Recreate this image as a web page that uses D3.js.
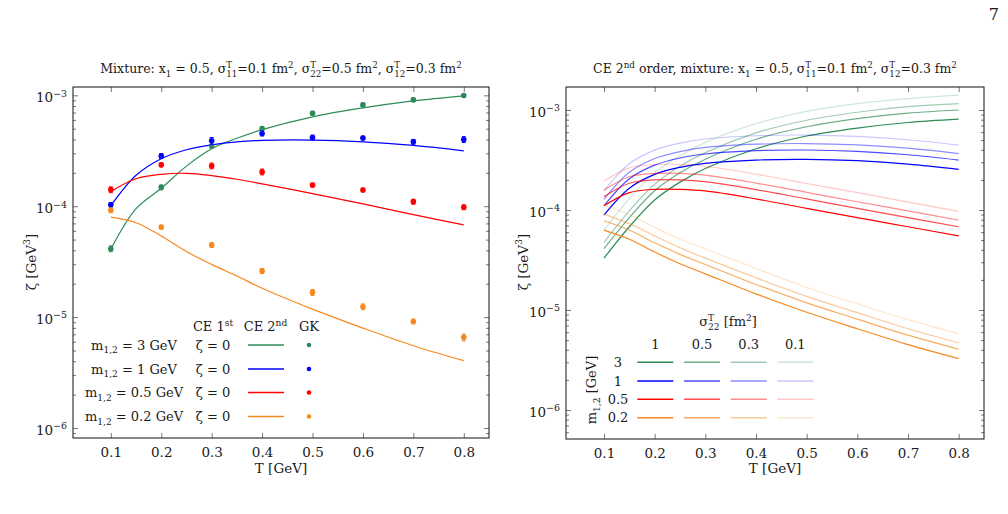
<!DOCTYPE html>
<html>
<head>
<meta charset="utf-8">
<script src="https://cdn.jsdelivr.net/npm/d3@7"></script>
<style>
  body { margin: 0; background: #fff; }
  text { font-family: "DejaVu Serif", "Liberation Serif", serif; fill: #1a1a1a; }
</style>
</head>
<body>
<div id="graphic"></div>
<script>
// ---------- data ----------
const xTicks = [0.1, 0.2, 0.3, 0.4, 0.5, 0.6, 0.7, 0.8];
const yMajor = [1e-6, 1e-5, 1e-4, 1e-3];

// Green-Kubo points (left panel)
const gkT = [0.1, 0.2, 0.3, 0.4, 0.5, 0.6, 0.7, 0.8];
const gk3  = [4.14e-5, 1.48e-4, 3.49e-4, 5.02e-4, 6.9e-4, 8.2e-4, 9.1e-4, 9.95e-4];
const gk1  = [1.03e-4, 2.84e-4, 3.89e-4, 4.53e-4, 4.17e-4, 4.12e-4, 3.81e-4, 4.0e-4];
const gk05 = [1.41e-4, 2.36e-4, 2.31e-4, 2.04e-4, 1.55e-4, 1.40e-4, 1.10e-4, 9.8e-5];
const gk02 = [9.2e-5, 6.48e-5, 4.47e-5, 2.61e-5, 1.67e-5, 1.24e-5, 9.14e-6, 6.57e-6];
// relative error bars
const gkErr3  = [0.06, 0.05, 0.04, 0.04, 0.04, 0.04, 0.04, 0.03];
const gkErr1  = [0.05, 0.05, 0.07, 0.05, 0.05, 0.04, 0.05, 0.06];
const gkErr05 = [0.06, 0.04, 0.06, 0.06, 0.04, 0.04, 0.05, 0.05];
const gkErr02 = [0.05, 0.04, 0.05, 0.05, 0.06, 0.06, 0.05, 0.07];

// CE 2nd order curves (left panel)
const ceT  = [0.1, 0.15, 0.2, 0.25, 0.3, 0.35, 0.4, 0.5, 0.6, 0.7, 0.8];
const ce3  = [4.1e-5, 9.5e-5, 1.45e-4, 2.3e-4, 3.3e-4, 4.1e-4, 4.9e-4, 6.4e-4, 7.7e-4, 8.9e-4, 9.9e-4];
const ce1  = [1.01e-4, 1.9e-4, 2.68e-4, 3.23e-4, 3.58e-4, 3.81e-4, 3.92e-4, 3.95e-4, 3.81e-4, 3.53e-4, 3.16e-4];
const ce05 = [1.36e-4, 1.77e-4, 1.94e-4, 1.98e-4, 1.89e-4, 1.75e-4, 1.59e-4, 1.30e-4, 1.05e-4, 8.4e-5, 6.8e-5];
const ce02 = [7.96e-5, 7.1e-5, 5.4e-5, 3.9e-5, 2.99e-5, 2.35e-5, 1.82e-5, 1.18e-5, 7.96e-6, 5.52e-6, 4.05e-6];

// CE 2nd order, sigma22 scan (right panel), rows per sigma22 = 1, 0.5, 0.3, 0.1
const rT = [0.1, 0.15, 0.2, 0.25, 0.3, 0.4, 0.5, 0.6, 0.7, 0.8];
const sigma22 = ["1", "0.5", "0.3", "0.1"];
const masses = ["3", "1", "0.5", "0.2"];
const r3 = [
  [3.3e-5, 6.8e-5, 1.26e-4, 1.9e-4, 2.6e-4, 4.1e-4, 5.5e-4, 6.6e-4, 7.5e-4, 8.1e-4],
  [4.1e-5, 8.4e-5, 1.56e-4, 2.36e-4, 3.22e-4, 5.1e-4, 6.8e-4, 8.2e-4, 9.3e-4, 1.0e-3],
  [4.75e-5, 9.8e-5, 1.81e-4, 2.74e-4, 3.75e-4, 5.9e-4, 7.9e-4, 9.5e-4, 1.08e-3, 1.16e-3],
  [6.3e-5, 1.3e-4, 2.35e-4, 3.5e-4, 4.75e-4, 7.3e-4, 9.7e-4, 1.16e-3, 1.3e-3, 1.41e-3]
];
const r1 = [
  [8.9e-5, 1.65e-4, 2.27e-4, 2.67e-4, 2.93e-4, 3.16e-4, 3.21e-4, 3.11e-4, 2.88e-4, 2.55e-4],
  [1.1e-4, 2.05e-4, 2.81e-4, 3.31e-4, 3.63e-4, 3.92e-4, 3.98e-4, 3.86e-4, 3.57e-4, 3.16e-4],
  [1.28e-4, 2.38e-4, 3.27e-4, 3.84e-4, 4.22e-4, 4.55e-4, 4.62e-4, 4.48e-4, 4.15e-4, 3.67e-4],
  [1.56e-4, 2.9e-4, 3.97e-4, 4.67e-4, 5.13e-4, 5.53e-4, 5.62e-4, 5.44e-4, 5.04e-4, 4.46e-4]
];
const r05 = [
  [1.1e-4, 1.49e-4, 1.61e-4, 1.61e-4, 1.55e-4, 1.29e-4, 1.04e-4, 8.4e-5, 6.8e-5, 5.5e-5],
  [1.36e-4, 1.85e-4, 2.0e-4, 2.0e-4, 1.92e-4, 1.6e-4, 1.29e-4, 1.04e-4, 8.4e-5, 6.8e-5],
  [1.58e-4, 2.15e-4, 2.32e-4, 2.32e-4, 2.23e-4, 1.86e-4, 1.5e-4, 1.21e-4, 9.8e-5, 7.9e-5],
  [1.95e-4, 2.64e-4, 2.85e-4, 2.85e-4, 2.74e-4, 2.28e-4, 1.84e-4, 1.49e-4, 1.2e-4, 9.7e-5]
];
const r02 = [
  [6.3e-5, 5.1e-5, 3.8e-5, 2.9e-5, 2.3e-5, 1.45e-5, 9.5e-6, 6.5e-6, 4.5e-6, 3.26e-6],
  [7.8e-5, 6.3e-5, 4.7e-5, 3.6e-5, 2.85e-5, 1.8e-5, 1.18e-5, 8.1e-6, 5.6e-6, 4.05e-6],
  [9.1e-5, 7.3e-5, 5.5e-5, 4.2e-5, 3.3e-5, 2.1e-5, 1.37e-5, 9.4e-6, 6.5e-6, 4.7e-6],
  [1.12e-4, 9.0e-5, 6.7e-5, 5.1e-5, 4.1e-5, 2.6e-5, 1.68e-5, 1.15e-5, 8.0e-6, 5.77e-6]
];

const colGreen = "#2e8b57", colBlue = "#0000ff", colRed = "#ff0000", colOrange = "#f5891f";
const fades = [1, 0.7, 0.45, 0.22];
const fs = 13;

// ---------- helpers ----------
const svg = d3.select("#graphic")
    .append("svg")
    .attr("width", 1008)
    .attr("height", 514);

// text with ^{sup} and _{sub}; a sub right after a sup is stacked under it
function rich(sel, str, size) {
    const re = /([\^_])\{([^}]*)\}/g;
    let tokens = [], last = 0, m;
    while ((m = re.exec(str)) !== null) {
        if (m.index > last) tokens.push({type: "n", t: str.slice(last, m.index)});
        tokens.push({type: m[1] === "^" ? "sup" : "sub", t: m[2]});
        last = re.lastIndex;
    }
    if (last < str.length) tokens.push({type: "n", t: str.slice(last)});
    sel.attr("font-size", size);
    let shift = 0, prev = null;
    tokens.forEach(tok => {
        const ts = sel.append("tspan").text(tok.t);
        let target = 0;
        if (tok.type === "sup") target = -0.42 * size;
        if (tok.type === "sub") target = 0.28 * size;
        ts.attr("dy", target - shift);
        shift = target;
        if (tok.type !== "n") ts.attr("font-size", size * 0.7);
        if (tok.type === "sub" && prev && prev.type === "sup") {
            ts.attr("dx", -prev.node.getComputedTextLength());
        }
        prev = {type: tok.type, node: ts.node()};
    });
    return sel;
}

function label(x, y, str, size, anchor, rotate) {
    const t = svg.append("text")
        .attr("text-anchor", anchor || "middle")
        .attr("transform", `translate(${x},${y})` + (rotate ? ` rotate(${rotate})` : ""));
    return rich(t, str, size);
}

function panel(box, yDomain, id) {
    const x = d3.scaleLinear().domain([0.025, 0.85]).range([box.left, box.right]);
    const y = d3.scaleLog().domain(yDomain).range([box.bottom, box.top]);

    svg.append("clipPath").attr("id", id)
        .append("rect")
        .attr("x", box.left).attr("y", box.top)
        .attr("width", box.right - box.left).attr("height", box.bottom - box.top);

    let minor = [];
    for (let e = -7; e <= -2; e++)
        for (let k = 2; k <= 9; k++) {
            const v = k * Math.pow(10, e);
            if (v > yDomain[0] && v < yDomain[1]) minor.push(v);
        }

    const axes = svg.append("g").attr("class", "axes");
    axes.append("g").attr("transform", `translate(0,${box.bottom})`)
        .call(d3.axisBottom(x).tickValues(xTicks).tickSize(-5).tickPadding(9).tickFormat(d3.format(".1f")));
    axes.append("g").attr("transform", `translate(0,${box.top})`)
        .call(d3.axisTop(x).tickValues(xTicks).tickSize(-5).tickFormat(""));
    axes.append("g").attr("transform", `translate(${box.left},0)`)
        .call(d3.axisLeft(y).tickValues(yMajor).tickSize(-5).tickFormat(""));
    axes.append("g").attr("transform", `translate(${box.left},0)`)
        .call(d3.axisLeft(y).tickValues(minor).tickSize(-3).tickFormat(""));
    axes.append("g").attr("transform", `translate(${box.right},0)`)
        .call(d3.axisRight(y).tickValues(yMajor).tickSize(-5).tickFormat(""));
    axes.append("g").attr("transform", `translate(${box.right},0)`)
        .call(d3.axisRight(y).tickValues(minor).tickSize(-3).tickFormat(""));
    axes.selectAll(".domain").remove();
    axes.selectAll(".tick line").attr("stroke", "#555").attr("stroke-width", 0.8);
    axes.selectAll(".tick text").attr("font-size", 13.5);

    yMajor.forEach(v => {
        label(box.left - 6, y(v) + 7, "10^{−" + Math.round(-Math.log10(v)) + "}", 13.5, "end");
    });

    svg.append("rect")
        .attr("x", box.left).attr("y", box.top)
        .attr("width", box.right - box.left).attr("height", box.bottom - box.top)
        .attr("fill", "none").attr("stroke", "#111").attr("stroke-width", 1);

    const plot = svg.append("g").attr("clip-path", `url(#${id})`);
    return {x, y, plot};
}

function curve(p, ts, vs, color, opacity) {
    const line = d3.line()
        .x((d, i) => p.x(ts[i]))
        .y(d => p.y(d))
        .curve(d3.curveCatmullRom.alpha(0.5));
    p.plot.append("path")
        .datum(vs)
        .attr("d", line)
        .attr("fill", "none")
        .attr("stroke", color)
        .attr("stroke-opacity", opacity == null ? 1 : opacity)
        .attr("stroke-width", 1.2);
}

function points(p, ts, vs, errs, color) {
    const g = p.plot.append("g").attr("stroke", color).attr("fill", color);
    vs.forEach((v, i) => {
        const cx = p.x(ts[i]);
        const y0 = p.y(v * (1 - errs[i])), y1 = p.y(v * (1 + errs[i]));
        g.append("line").attr("x1", cx).attr("x2", cx).attr("y1", y0).attr("y2", y1).attr("stroke-width", 1);
        g.append("line").attr("x1", cx - 2).attr("x2", cx + 2).attr("y1", y0).attr("y2", y0).attr("stroke-width", 1);
        g.append("line").attr("x1", cx - 2).attr("x2", cx + 2).attr("y1", y1).attr("y2", y1).attr("stroke-width", 1);
        g.append("circle").attr("cx", cx).attr("cy", p.y(v)).attr("r", 2.8).attr("stroke", "none");
    });
}

// ---------- left panel ----------
const L = panel({left: 73, right: 489, top: 87, bottom: 438}, [Math.pow(10, -6.09), Math.pow(10, -2.925)], "clipL");
curve(L, ceT, ce3, colGreen);
curve(L, ceT, ce1, colBlue);
curve(L, ceT, ce05, colRed);
curve(L, ceT, ce02, colOrange);
points(L, gkT, gk3, gkErr3, colGreen);
points(L, gkT, gk1, gkErr1, colBlue);
points(L, gkT, gk05, gkErr05, colRed);
points(L, gkT, gk02, gkErr02, colOrange);

label(281, 73, "Mixture: x_{1} = 0.5, σ^{T}_{11}=0.1 fm^{2}, σ^{T}_{22}=0.5 fm^{2}, σ^{T}_{12}=0.3 fm^{2}", 12.5);
label(281, 473, "T [GeV]", 13.5);
label(36, 262, "ζ [GeV^{3}]", 13.5, "middle", -90);

// left legend
const legRows = [345, 369, 392.5, 416.5];
const legMass = ["3", "1", "0.5", "0.2"];
const legCols = [colGreen, colBlue, colRed, colOrange];
label(213, 331, "CE 1^{st}", fs);
label(265.5, 331, "CE 2^{nd}", fs);
label(309, 331, "GK", fs);
legRows.forEach((ry, i) => {
    label(134, ry + 4.5, "m_{1,2} = " + legMass[i] + " GeV", fs);
    label(213, ry + 4.5, "ζ = 0", fs);
    svg.append("line").attr("x1", 248).attr("x2", 284).attr("y1", ry).attr("y2", ry)
        .attr("stroke", legCols[i]).attr("stroke-width", 1.3);
    svg.append("circle").attr("cx", 309).attr("cy", ry).attr("r", 2.3).attr("fill", legCols[i]);
});

// ---------- right panel ----------
const R = panel({left: 566, right: 984, top: 87, bottom: 439}, [Math.pow(10, -6.29), Math.pow(10, -2.77)], "clipR");
const rSets = [r3, r1, r05, r02];
rSets.forEach((set, mi) => {
    for (let s = 3; s >= 0; s--) curve(R, rT, set[s], legCols[mi], fades[s]);
});

label(775, 73, "CE 2^{nd} order, mixture: x_{1} = 0.5, σ^{T}_{11}=0.1 fm^{2}, σ^{T}_{12}=0.3 fm^{2}", 12.5);
label(775, 473, "T [GeV]", 13.5);
label(528, 262, "ζ [GeV^{3}]", 13.5, "middle", -90);

// right legend
const rCols = [655.3, 702, 748.7, 795.3];
const rRows = [362.3, 381, 399.3, 417.7];
label(728, 326, "σ^{T}_{22} [fm^{2}]", fs);
sigma22.forEach((s, j) => label(rCols[j], 349, s, fs));
masses.forEach((mv, i) => {
    label(618, rRows[i] + 4.5, mv, fs);
    sigma22.forEach((s, j) => {
        svg.append("line")
            .attr("x1", rCols[j] - 18).attr("x2", rCols[j] + 18)
            .attr("y1", rRows[i]).attr("y2", rRows[i])
            .attr("stroke", legCols[i]).attr("stroke-opacity", fades[j]).attr("stroke-width", 1.5);
    });
});
label(596, 390, "m_{1,2} [GeV]", fs, "middle", -90);

// page number
label(999, 20, "7", 16, "end");
</script>
</body>
</html>
